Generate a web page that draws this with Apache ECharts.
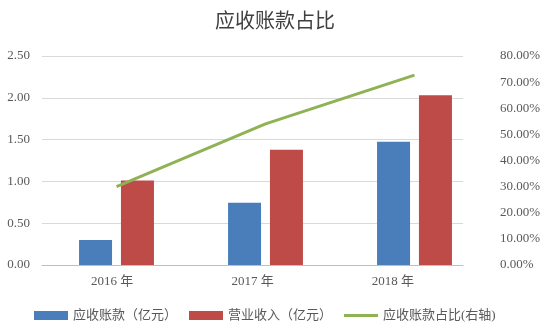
<!DOCTYPE html>
<html><head><meta charset="utf-8">
<script src="https://cdn.jsdelivr.net/npm/echarts@6/dist/echarts.min.js"></script>
<style>html,body{margin:0;padding:0;background:#fff}#c{width:550px;height:329px}</style>
</head><body><div id="c"></div>
<script>
const categories = ['2016 年', '2017 年', '2018 年'];
const receivables = [0.30, 0.745, 1.475];
const revenue = [1.01, 1.38, 2.03];
const ratio = [0.300, 0.540, 0.727];
const leftTicks = [0, 2.5, 0.5];
const rightTicks = [0, 0.8, 0.1];

const serif = '"Liberation Serif","Noto Sans CJK SC",serif';
const txt = '#595959';
const chart = echarts.init(document.getElementById('c'));
chart.setOption({
  animation: false,
  backgroundColor: '#fff',
  title: { text: '应收账款占比', left: 'center', top: 8,
    textStyle: { fontFamily: serif, fontSize: 20, fontWeight: 'normal', color: '#404040' } },
  legend: {
    bottom: 2, left: 29, itemWidth: 34, itemHeight: 9, itemGap: 12,
    textStyle: { fontFamily: serif, fontSize: 13, color: txt },
    data: [
      { name: '应收账款（亿元）', icon: 'rect' },
      { name: '营业收入（亿元）', icon: 'rect' },
      { name: '应收账款占比(右轴)', icon: 'path://M0,0H34V3H0Z' }
    ]
  },
  grid: [
    { left: 42, right: 87, top: 56, bottom: 64 },
    { left: 42, right: 61, top: 56, bottom: 64 }
  ],
  xAxis: [
    { type: 'category', gridIndex: 0, data: categories,
      axisLine: { lineStyle: { color: '#bfbfbf' } }, axisTick: { show: false },
      axisLabel: { fontFamily: serif, fontSize: 13, color: txt, margin: 10 } },
    { type: 'category', gridIndex: 1, data: categories, show: false }
  ],
  yAxis: [
    { type: 'value', gridIndex: 0, min: leftTicks[0], max: leftTicks[1], interval: leftTicks[2],
      axisLine: { show: false }, axisTick: { show: false },
      axisLabel: { fontFamily: serif, fontSize: 13, color: txt, margin: 12, formatter: v => v.toFixed(2) },
      splitLine: { lineStyle: { color: '#d9d9d9' } } },
    { type: 'value', gridIndex: 0, position: 'right', min: rightTicks[0], max: rightTicks[1], interval: rightTicks[2],
      axisLine: { show: false }, axisTick: { show: false }, splitLine: { show: false },
      axisLabel: { fontFamily: serif, fontSize: 13, color: txt, margin: 37, align: 'left',
        formatter: v => (v * 100).toFixed(2) + '%' } },
    { type: 'value', gridIndex: 1, min: leftTicks[0], max: leftTicks[1], show: false },
    { type: 'value', gridIndex: 1, min: rightTicks[0], max: rightTicks[1], show: false }
  ],
  series: [
    { name: '应收账款（亿元）', type: 'bar', xAxisIndex: 1, yAxisIndex: 2, data: receivables,
      barWidth: 33, barGap: '27%', itemStyle: { color: '#4a7ebb' } },
    { name: '营业收入（亿元）', type: 'bar', xAxisIndex: 1, yAxisIndex: 2, data: revenue,
      barWidth: 33, barGap: '27%', itemStyle: { color: '#be4b48' } },
    { name: '应收账款占比(右轴)', type: 'line', xAxisIndex: 1, yAxisIndex: 3, data: ratio,
      symbol: 'none', lineStyle: { color: '#8fb255', width: 3 }, itemStyle: { color: '#8fb255' } }
  ]
});
</script></body></html>
